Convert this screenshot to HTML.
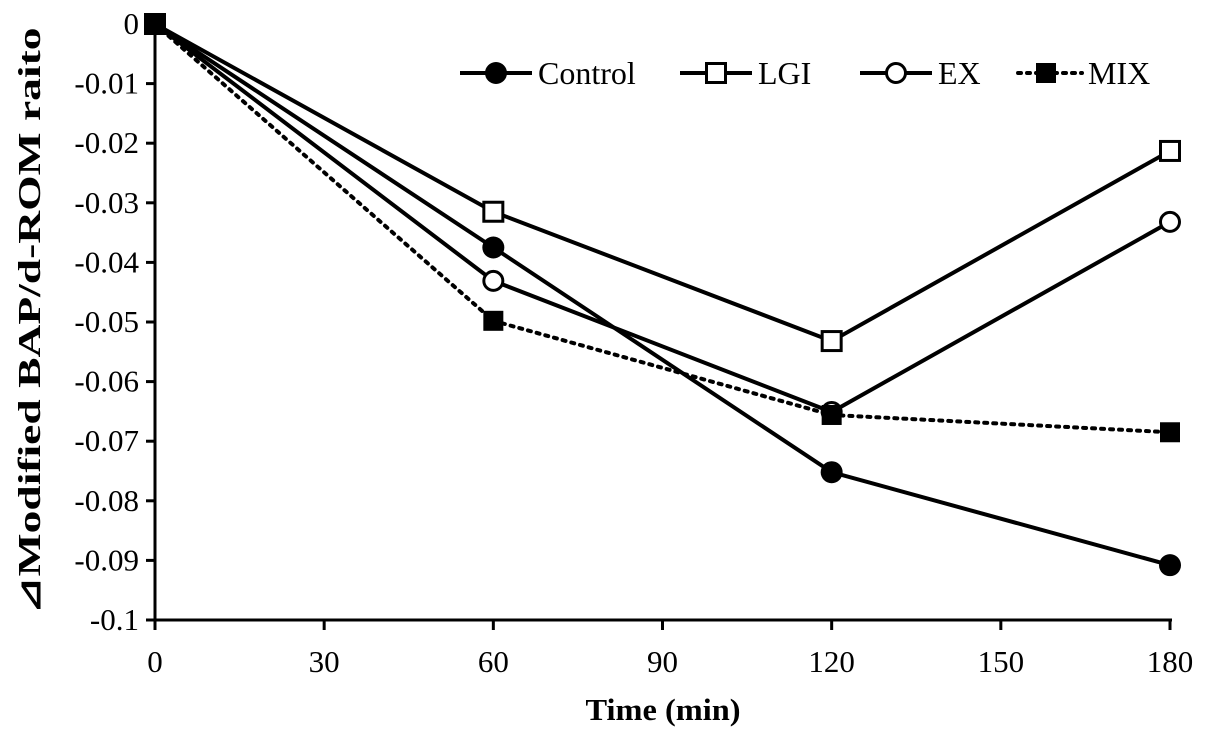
<!DOCTYPE html>
<html><head><meta charset="utf-8"><style>
body{margin:0;background:#fff;}
svg{display:block;font-family:"Liberation Serif",serif;}
</style></head><body>
<svg id="chart" width="1205" height="737" viewBox="0 0 1205 737">
<g id="axes"></g><g id="series"></g><g id="legend"></g>
<text x="663" y="720" text-anchor="middle" font-size="31" font-weight="bold" textLength="155" lengthAdjust="spacingAndGlyphs">Time (min)</text>
<text transform="translate(40,321) rotate(-90)" text-anchor="middle" font-size="32" font-weight="bold" textLength="587" lengthAdjust="spacingAndGlyphs">⊿Modified BAP/d-ROM raito</text>
</svg>
<script>
const xCats=[0,60,120,180];
const xTicks=[0,30,60,90,120,150,180];
const yTicks=[0,-0.01,-0.02,-0.03,-0.04,-0.05,-0.06,-0.07,-0.08,-0.09,-0.1];
const yTickLabels=["0","-0.01","-0.02","-0.03","-0.04","-0.05","-0.06","-0.07","-0.08","-0.09","-0.1"];
const controlVals=[0,-0.0375,-0.0752,-0.0908];
const lgiVals=[0,-0.0315,-0.0532,-0.0213];
const exVals=[0,-0.0431,-0.0651,-0.0332];
const mixVals=[0,-0.0498,-0.0656,-0.0685];
const seriesNames=["Control","LGI","EX","MIX"];

const NS="http://www.w3.org/2000/svg";
const X=v=>155+v*(1170-155)/180;
const Y=v=>24+(-v)*(620-24)/0.1;
function mk(tag,attrs,parent){const e=document.createElementNS(NS,tag);for(const k in attrs)e.setAttribute(k,attrs[k]);parent.appendChild(e);return e;}
const axes=document.getElementById('axes'),ser=document.getElementById('series'),leg=document.getElementById('legend');
let a=mk('line',{x1:X(0),y1:Y(0),x2:X(0),y2:Y(-0.1),stroke:'#000','stroke-width':3},axes);


a=mk('line',{x1:X(0)-9,y1:Y(-0.1),x2:X(180)+2,y2:Y(-0.1),stroke:'#000','stroke-width':3},axes);


yTicks.forEach((v,i)=>{
 const t=mk('line',{x1:X(0)-9,y1:Y(v),x2:X(0),y2:Y(v),stroke:'#000','stroke-width':3},axes);
 
 
 const l=mk('text',{x:139,y:Y(v)+10,'text-anchor':'end','font-size':31},axes);l.textContent=yTickLabels[i];
 
 
});
xTicks.forEach(v=>{
 const t=mk('line',{x1:X(v),y1:Y(-0.1),x2:X(v),y2:Y(-0.1)+10,stroke:'#000','stroke-width':3},axes);
 
 
 const l=mk('text',{x:X(v),y:672,'text-anchor':'middle','font-size':31},axes);l.textContent=String(v);
 
 
});
function marker(type,cx,cy,g){
 if(type==='Control')return mk('circle',{cx,cy,r:11,fill:'#000'},g);
 if(type==='LGI')return mk('rect',{x:cx-9.5,y:cy-9.5,width:19,height:19,fill:'#fff',stroke:'#000','stroke-width':3},g);
 if(type==='EX')return mk('circle',{cx,cy,r:9.5,fill:'#fff',stroke:'#000','stroke-width':3},g);
 return mk('rect',{x:cx-10,y:cy-10,width:20,height:20,fill:'#000'},g);
}
const allVals=[controlVals,lgiVals,exVals,mixVals];
seriesNames.forEach((name,si)=>{
 const g=mk('g',{},ser);
 
 
 const pts=allVals[si].map((v,i)=>X(xCats[i])+','+Y(v)).join(' ');
 const attrs={points:pts,fill:'none',stroke:'#000','stroke-width':4};
 if(name==='MIX'){attrs['stroke-dasharray']='3 6';attrs['stroke-linecap']='round';}
 const p=mk('polyline',attrs,g);
 
 
 allVals[si].forEach((v,i)=>{
  const m=marker(name,X(xCats[i]),Y(v),g);
  
  
 });
});
const legX=[460,680,860,1010];
seriesNames.forEach((name,i)=>{
 const g=mk('g',{},leg);
 
 
 const x0=legX[i],y0=73;
 const attrs={x1:x0,y1:y0,x2:x0+72,y2:y0,stroke:'#000','stroke-width':4};
 if(name==='MIX'){attrs['stroke-dasharray']='3 6';attrs['stroke-linecap']='round';attrs.x1=x0+8;}
 mk('line',attrs,g);
 marker(name,x0+36,y0,g);
 const t=mk('text',{x:x0+78,y:y0+11,'font-size':32},g);t.textContent=name;
});
</script>
</body></html>
